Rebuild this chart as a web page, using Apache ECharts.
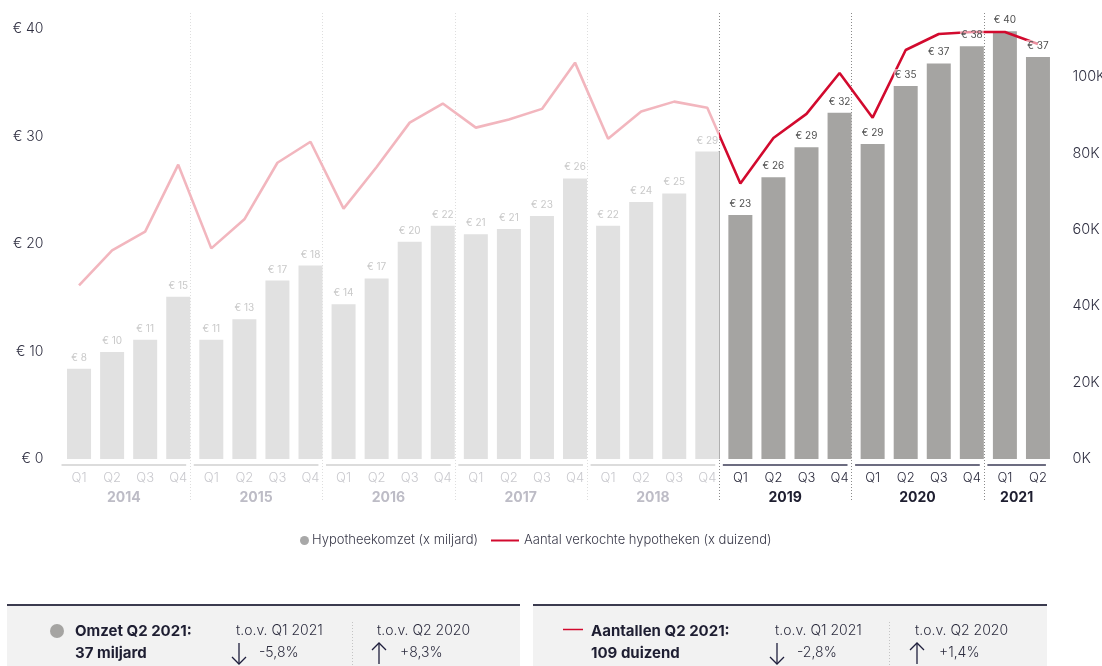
<!DOCTYPE html>
<html><head><meta charset="utf-8">
<script src="https://cdn.jsdelivr.net/npm/echarts@6/dist/echarts.min.js"></script>
<style>html,body{margin:0;padding:0;background:#fff;overflow:hidden}#c{width:1102px;height:666px}</style>
</head><body><div id="c"></div>
<script>
const years = ['2014','2015','2016','2017','2018','2019','2020','2021'];
const quartersPerYear = [4,4,4,4,4,4,4,2];
const quarterLabels = ['Q1','Q2','Q3','Q4'];
const omzet = [8.4,9.95,11.1,15.1, 11.1,13.0,16.6,18.0, 14.4,16.8,20.2,21.7, 20.9,21.4,22.6,26.1, 21.7,23.9,24.7,28.6, 22.7,26.2,29.0,32.2, 29.3,34.7,36.8,38.4, 39.8,37.4];
const aantal = [45.4,54.6,59.5,77.0, 55.1,62.7,77.5,83.0, 65.5,76.4,88.0,93.0, 86.7,88.8,91.6,103.7, 83.8,90.9,93.5,91.9, 72.1,84.0,90.3,101.0, 89.3,107.0,111.2,111.7, 111.7,108.6];
const leftTicks = [0,10,20,30,40];
const rightTicks = [0,20,40,60,80,100];
const darkFrom = 2019;

const FONT = 'Inter, "Liberation Sans", sans-serif';
const C = {
  barLight:'#e1e1e1', barDark:'#a5a4a2', pink:'#f2b6be', red:'#d20a2e',
  lblLight:'#c9c9c9', lblDark:'#505050', axisTxt:'#2e2e40',
  qLight:'#c9c9ce', qDark:'#2a2a3c', yLight:'#bdbcc6', yDark:'#1e1e30',
  ulLight:'#dcdcdc', ulDark:'#6c6c80', sepLight:'#dedede', sepDark:'#8a8a8a'
};

// categories and year groups
const categories = [];
const groups = [];
years.forEach((y, i) => {
  const start = categories.length;
  for (let q = 0; q < quartersPerYear[i]; q++) categories.push(y + ' ' + quarterLabels[q]);
  groups.push([start, categories.length - 1, i]);
});
const isDark = idx => +categories[idx].split(' ')[0] >= darkFrom;
const firstDark = categories.findIndex((c, i) => isDark(i));

const chart = echarts.init(document.getElementById('c'), null, {renderer:'canvas'});

const lightTxt = '300 14px ' + FONT;
const boldTxt = 'bold 15px ' + FONT;
function txt(text, x, y, font, fill) {
  return {type:'text', silent:true, style:{text, x, y, verticalAlign:'middle', font, fill}};
}
function arrow(cx, up) {
  const head = up ? [[cx-7,650],[cx,643],[cx+7,650]] : [[cx-7,657],[cx,664],[cx+7,657]];
  return [
    {type:'polyline', silent:true, shape:{points:[[cx,643],[cx,664]]}, style:{stroke:'#1e1e3c', lineWidth:1.3, fill:null}},
    {type:'polyline', silent:true, shape:{points:head}, style:{stroke:'#1e1e3c', lineWidth:1.3, fill:null}}
  ];
}

const option = {
  animation:false,
  textStyle:{fontFamily:FONT},
  grid:{left:62.5, right:47.5, top:29, bottom:207, containLabel:false, outerBoundsMode:'none'},
  legend:[
    {data:[{name:'Hypotheekomzet (x miljard)', icon:'circle', itemStyle:{color:'#a8a8a8'}}],
     left:295, top:529, itemWidth:9, itemHeight:9, itemGap:0,
     textStyle:{fontFamily:FONT, fontSize:13, fontWeight:300, color:'#3a3a4a', padding:[0,0,0,-2]}, selectedMode:false},
    {data:[{name:'Aantal verkochte hypotheken (x duizend)', icon:'path://M0,0L28,0L28,2L0,2Z', itemStyle:{color:C.red}}],
     left:486, top:529, itemWidth:28, itemHeight:9, itemGap:0,
     textStyle:{fontFamily:FONT, fontSize:13, fontWeight:300, color:'#3a3a4a'}, selectedMode:false}
  ],
  xAxis:{type:'category', data:categories,
    axisLine:{show:false}, axisTick:{show:false}, splitLine:{show:false},
    axisLabel:{interval:0, margin:13, fontSize:13, fontFamily:FONT,
      formatter:(v, i) => { const q = v.split(' ')[1]; return isDark(i) ? '{d|'+q+'}' : '{l|'+q+'}'; },
      rich:{l:{color:C.qLight, fontSize:13, fontWeight:300, fontFamily:FONT}, d:{color:C.qDark, fontSize:13, fontWeight:300, fontFamily:FONT}}}},
  yAxis:[
    {type:'value', min:leftTicks[0], max:leftTicks[leftTicks.length-1], interval:leftTicks[1]-leftTicks[0],
     axisLine:{show:false}, axisTick:{show:false}, splitLine:{show:false},
     axisLabel:{margin:19, fontSize:14, fontWeight:300, color:C.axisTxt, fontFamily:FONT, formatter:v => '€ ' + v}},
    {type:'value', position:'right', min:0, max:112.5, interval:rightTicks[1]-rightTicks[0],
     axisLine:{show:false}, axisTick:{show:false}, splitLine:{show:false},
     axisLabel:{margin:18, fontSize:14.5, fontWeight:300, color:C.axisTxt, fontFamily:FONT, showMaxLabel:false,
       formatter:v => rightTicks.includes(v) ? v + 'K' : ''}}
  ],
  series:[
    {name:'Hypotheekomzet (x miljard)', type:'bar', yAxisIndex:0, barWidth:24, barGap:'-100%', z:2,
     itemStyle:{color:C.barDark},
     data:omzet.map((v,i) => ({value:v, itemStyle:{color:isDark(i) ? C.barDark : C.barLight}}))},
    {name:'Aantal verkochte hypotheken (x duizend)', type:'line', yAxisIndex:1, z:3,
     symbol:'none', lineStyle:{width:2.6, color:C.red}, itemStyle:{color:C.red},
     data:aantal},
    {name:'labels', type:'bar', yAxisIndex:0, barWidth:24, barGap:'-100%', z:5, silent:true,
     itemStyle:{color:'rgba(0,0,0,0)'},
     label:{show:true, position:'top', distance:6, fontSize:10, fontFamily:FONT,
       backgroundColor:'rgba(255,255,255,0.55)', padding:[1,1,0,1],
       formatter:p => '€ ' + Math.round(p.value)},
     data:omzet.map((v,i) => ({value:v, label:{color:isDark(i) ? C.lblDark : C.lblLight}}))},
    {name:'years', type:'custom', xAxisIndex:0, yAxisIndex:0, z:1, silent:true,
     data:groups,
     renderItem:(params, api) => {
       const s = api.value(0), e = api.value(1), yi = api.value(2);
       const bw = api.size([1,0])[0];
       const p0 = api.coord([s, leftTicks[0]]);
       const p1 = api.coord([e, leftTicks[0]]);
       const pTop = api.coord([e, leftTicks[leftTicks.length-1]]);
       const dark = +years[yi] >= darkFrom;
       const x1 = p0[0] - bw*0.53, x2 = p1[0] + bw*0.24;
       const base = p0[1];
       const children = [
         {type:'rect', shape:{x:x1, y:base+5, width:x2-x1, height:2},
          style:{fill:dark ? C.ulDark : C.ulLight}},
         {type:'text', style:{text:years[yi], x:(x1+x2)/2, y:base+39, align:'center', verticalAlign:'middle',
          font:'bold 14px ' + FONT, fill:dark ? C.yDark : C.yLight}}
       ];
       if (yi < years.length - 1) {
         const nextDark = +years[yi+1] >= darkFrom;
         const xs = Math.round(p1[0] + bw*0.36) + 0.5;
         children.push({type:'line', shape:{x1:xs, y1:pTop[1]-16, x2:xs, y2:base+41},
           style:{stroke:nextDark ? C.sepDark : C.sepLight, lineWidth:1, lineDash:[1,2]}});
         if (nextDark && !dark) {
           const barTop = api.coord([e, omzet[e]]);
           children.push({type:'line', z2:10, shape:{x1:xs-0.5, y1:barTop[1], x2:xs-0.5, y2:base},
             style:{stroke:'#9c9c9c', lineWidth:2}});
         }
       }
       return {type:'group', children};
     }}
  ],
  graphic:[
    // left panel
    {type:'rect', silent:true, shape:{x:7, y:606, width:513, height:60}, style:{fill:'#f2f2f2'}},
    {type:'line', silent:true, shape:{x1:7, y1:605, x2:520, y2:605}, style:{stroke:'#3b3b4f', lineWidth:2}},
    {type:'circle', silent:true, shape:{cx:57, cy:631, r:7}, style:{fill:'#a5a4a2'}},
    txt('Omzet Q2 2021:', 75, 631, boldTxt, '#1e1e32'),
    txt('37 miljard', 75, 653, boldTxt, '#1e1e32'),
    txt('t.o.v. Q1 2021', 236, 631, lightTxt, '#2e2e40'),
    ...arrow(239, false),
    txt('-5,8%', 259, 653, lightTxt, '#2e2e40'),
    {type:'line', silent:true, shape:{x1:352.5, y1:622, x2:352.5, y2:666}, style:{stroke:'#c4c4c4', lineWidth:1, lineDash:[1,2]}},
    txt('t.o.v. Q2 2020', 377, 631, lightTxt, '#2e2e40'),
    ...arrow(379, true),
    txt('+8,3%', 400, 653, lightTxt, '#2e2e40'),
    // right panel
    {type:'rect', silent:true, shape:{x:533, y:606, width:514, height:60}, style:{fill:'#f2f2f2'}},
    {type:'line', silent:true, shape:{x1:533, y1:605, x2:1047, y2:605}, style:{stroke:'#3b3b4f', lineWidth:2}},
    {type:'line', silent:true, shape:{x1:563, y1:629.5, x2:583, y2:629.5}, style:{stroke:C.red, lineWidth:1.5}},
    txt('Aantallen Q2 2021:', 591, 631, boldTxt, '#1e1e32'),
    txt('109 duizend', 591, 653, boldTxt, '#1e1e32'),
    txt('t.o.v. Q1 2021', 775, 631, lightTxt, '#2e2e40'),
    ...arrow(777, false),
    txt('-2,8%', 797, 653, lightTxt, '#2e2e40'),
    {type:'line', silent:true, shape:{x1:889.5, y1:622, x2:889.5, y2:666}, style:{stroke:'#c4c4c4', lineWidth:1, lineDash:[1,2]}},
    txt('t.o.v. Q2 2020', 915, 631, lightTxt, '#2e2e40'),
    ...arrow(917, true),
    txt('+1,4%', 939, 653, lightTxt, '#2e2e40')
  ]
};
chart.setOption(option);

// colour the line pink up to the 2018/2019 boundary, red after it (positions from the x axis scale)
const xFirst = chart.convertToPixel({xAxisIndex:0}, 0);
const xLast = chart.convertToPixel({xAxisIndex:0}, categories.length - 1);
const xPrev = chart.convertToPixel({xAxisIndex:0}, firstDark - 1);
const xNext = chart.convertToPixel({xAxisIndex:0}, firstDark);
const xSplit = xPrev + (xNext - xPrev) * 0.36;
const f = (xSplit - xFirst) / (xLast - xFirst);
chart.setOption({series:[{}, {lineStyle:{color:{type:'linear', x:xFirst, y:0, x2:xLast, y2:0, global:true,
  colorStops:[{offset:0, color:C.pink},{offset:f, color:C.pink},{offset:f, color:C.red},{offset:1, color:C.red}]}}}]});
</script></body></html>
